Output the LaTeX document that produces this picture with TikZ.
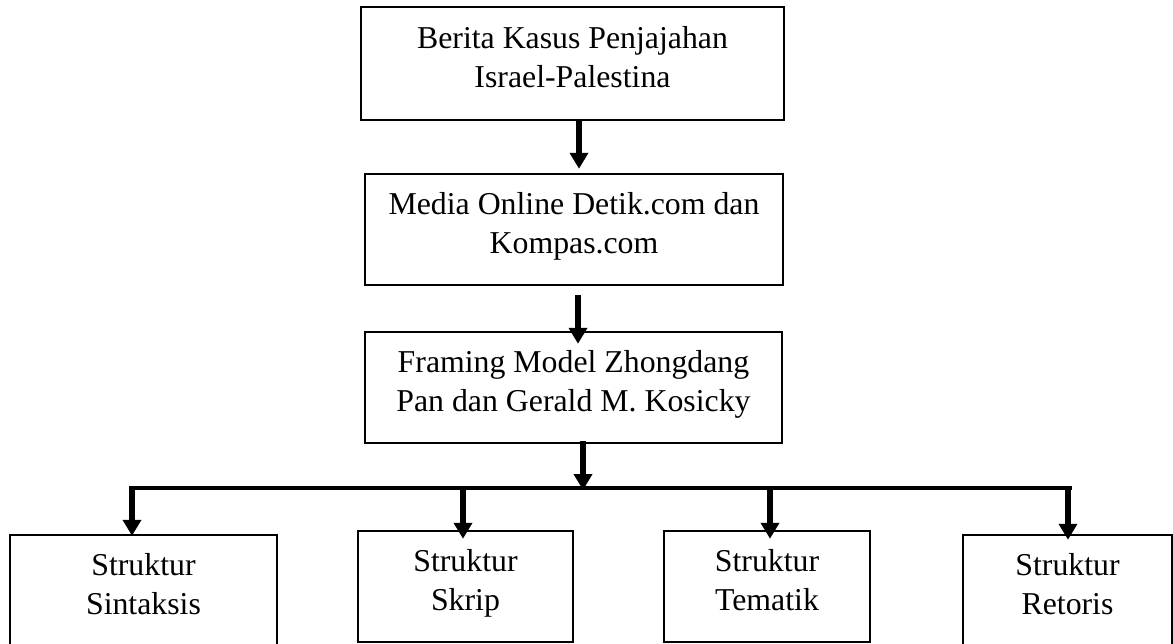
\documentclass[tikz,border=0pt]{standalone}
\usepackage{fontspec}
\setmainfont{Liberation Serif}
\usetikzlibrary{arrows.meta}
\newcommand{\twolines}[2]{\rule{0pt}{24pt}#1\\#2\rule[-16pt]{0pt}{16pt}}
\tikzset{
  boxnode/.style={draw, line width=2.5pt, inner sep=0pt, align=center,
    font=\fontsize{31.8}{39}\selectfont, minimum height=111pt},
  arr/.style={line width=5.5pt, -{Triangle[width=18pt,length=16pt]}},
  busline/.style={line width=4pt}
}
\begin{document}
\begin{tikzpicture}[x=1pt,y=-1pt]
\useasboundingbox (0,0) rectangle (1173,643);
\clip (0,0) rectangle (1173,643);
\node[boxnode, minimum width=423pt, minimum height=113pt] (b1) at (572.5,63.5) {\twolines{Berita Kasus Penjajahan}{Israel-Palestina}};
\node[boxnode, minimum width=418pt] (b2) at (574,229.5) {\twolines{Media Online Detik.com dan}{Kompas.com}};
\node[boxnode, minimum width=417pt] (b3) at (573.5,387.5) {\twolines{Framing Model Zhongdang}{Pan dan Gerald M. Kosicky}};
\node[boxnode, minimum width=267pt] (b4) at (143.5,590.5) {\twolines{Struktur}{Sintaksis}};
\node[boxnode, minimum width=215pt] (b5) at (465.5,586.5) {\twolines{Struktur}{Skrip}};
\node[boxnode, minimum width=206pt] (b6) at (767,586.5) {\twolines{Struktur}{Tematik}};
\node[boxnode, minimum width=209pt] (b7) at (1067.5,590.5) {\twolines{Struktur}{Retoris}};
\coordinate (hl) at (132,488);
\coordinate (hr) at (1072,488);
\coordinate (j) at (583,490);
\draw[arr] ([xshift=6.5pt]b1.south) -- ([xshift=5pt,yshift=4pt]b2.north);
\draw[arr] ([xshift=4pt,yshift=-9pt]b2.south) -- ([xshift=4.5pt,yshift=-13pt]b3.north);
\draw[arr] ([xshift=9.5pt,yshift=3pt]b3.south) -- (j);
\draw[busline] (hl) -- (hr);
\draw[arr] ([yshift=2pt]hl) -- ([xshift=-11.5pt,yshift=-2pt]b4.north);
\draw[arr] ([xshift=-2.5pt]b5.north |- hl) -- ([xshift=-2.5pt,yshift=-9pt]b5.north);
\draw[arr] ([xshift=3pt]b6.north |- hl) -- ([xshift=3pt,yshift=-9pt]b6.north);
\draw[arr] ([xshift=0.5pt,yshift=-2pt]b7.north |- hl) -- ([xshift=0.5pt,yshift=-6pt]b7.north);
\end{tikzpicture}
\end{document}
